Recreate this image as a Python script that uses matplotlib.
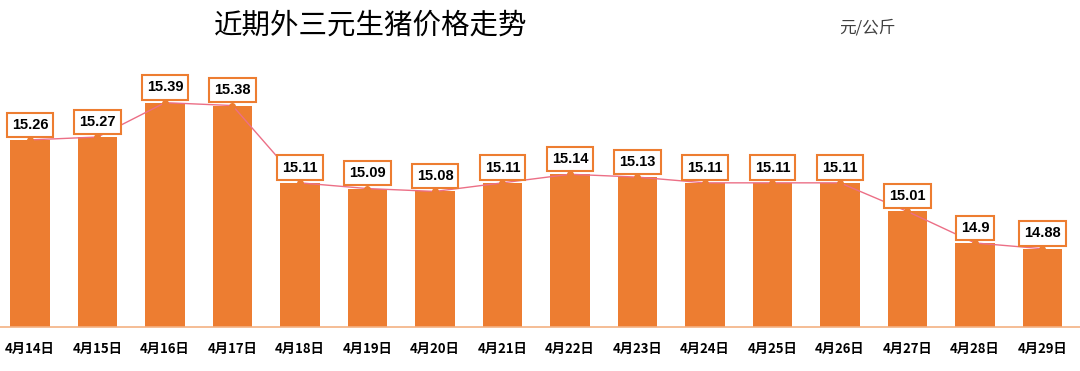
import numpy as np
import matplotlib.pyplot as plt

plt.rcParams['font.family'] = ['Noto Sans CJK SC', 'DejaVu Sans']

dates = ['4月14日', '4月15日', '4月16日', '4月17日', '4月18日', '4月19日', '4月20日', '4月21日',
         '4月22日', '4月23日', '4月24日', '4月25日', '4月26日', '4月27日', '4月28日', '4月29日']
prices = [15.26, 15.27, 15.39, 15.38, 15.11, 15.09, 15.08, 15.11,
          15.14, 15.13, 15.11, 15.11, 15.11, 15.01, 14.9, 14.88]
price_labels = ['15.26', '15.27', '15.39', '15.38', '15.11', '15.09', '15.08', '15.11',
                '15.14', '15.13', '15.11', '15.11', '15.11', '15.01', '14.9', '14.88']

fig = plt.figure(figsize=(10.8, 3.71), dpi=100)
ax = fig.add_axes([0.0, 0.119, 1.0, 0.72])

x = np.arange(len(dates))
ax.bar(x, prices, width=0.59, color='#ED7D31', zorder=2)
ax.plot(x, prices, color='#EC6F86', linewidth=1.0, marker='o', markersize=4,
        markerfacecolor='#ED7D31', markeredgecolor='#ED7D31', zorder=3)

for xi, yi, lab in zip(x, prices, price_labels):
    ax.annotate(lab, (xi, yi), xytext=(0, 11), textcoords='offset points',
                ha='center', va='center', fontsize=10.5, fontweight='bold', color='black',
                family=['Liberation Sans', 'DejaVu Sans'],
                bbox=dict(boxstyle='square,pad=0.35', facecolor='white', edgecolor='#ED7D31', linewidth=1.5),
                zorder=4)

ax.set_xlim(-0.444, 15.556)
ax.set_ylim(14.607, 15.54)
ax.set_xticks(x)
ax.set_xticklabels(dates, fontsize=9.5, fontweight='bold')
ax.tick_params(axis='x', length=0, pad=11)
ax.set_yticks([])
for s in ['top', 'right', 'left']:
    ax.spines[s].set_visible(False)
ax.spines['bottom'].set_color('#F4B183')
ax.spines['bottom'].set_linewidth(1.2)

fig.text(0.343, 0.93, '近期外三元生猪价格走势', ha='center', va='center', fontsize=20.5, color='black')
fig.text(0.803, 0.925, '元/公斤', ha='center', va='center', fontsize=12, color='#404040')

fig.savefig('out.png', dpi=100)
